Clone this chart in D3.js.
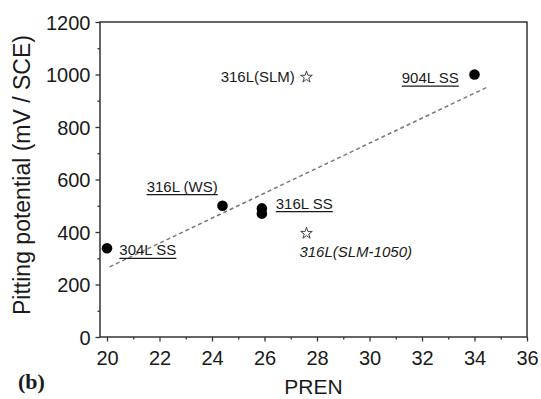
<!DOCTYPE html>
<html>
<head>
<meta charset="utf-8">
<script src="https://cdn.jsdelivr.net/npm/d3@7"></script>
<style>
  html, body { margin: 0; padding: 0; background: #fff; }
  svg text { font-family: Arial, "Liberation Sans", sans-serif; fill: #1a1a1a; }
</style>
</head>
<body>
<svg id="chart" width="541" height="399"></svg>
<script>
// measured samples: PREN vs pitting potential
var dotPren = [20, 24.4, 25.9, 25.9, 34];
var dotPotential = [338, 500, 490, 470, 1000];
var starPren = [27.6, 27.6];
var starPotential = [990, 395];

// dashed trend line end points
var trendPren = [20.1, 34.55];
var trendPotential = [267, 955];

// annotation texts and where they sit (data units)
var labelText = ["316L(SLM)", "904L SS", "316L (WS)", "304L SS", "316L SS", "316L(SLM-1050)"];
var labelPren = [24.33, 31.23, 21.51, 20.47, 26.43, 27.33];
var labelPotential = [972, 967, 554, 311, 489, 305];
var labelUnderline = [false, true, true, true, true, false];
var labelItalic = [false, false, false, false, false, true];

var xTicks = [20, 22, 24, 26, 28, 30, 32, 34, 36];
var xMinor = [21, 23, 25, 27, 29, 31, 33, 35];
var yTicks = [0, 200, 400, 600, 800, 1000, 1200];
var yMinor = [100, 300, 500, 700, 900, 1100];

var svg = d3.select("#chart");
var frame = { left: 100, right: 527, top: 22, bottom: 337 };

var xScale = d3.scaleLinear().domain([20, 36]).range([107, 527]);
var yScale = d3.scaleLinear().domain([0, 1200]).range([337, 22]);

// minor ticks
svg.append("g")
    .attr("class", "axis minor")
    .attr("transform", "translate(0," + frame.bottom + ")")
    .call(d3.axisBottom(xScale).tickValues(xMinor).tickSize(2.5).tickFormat(""));
svg.append("g")
    .attr("class", "axis minor")
    .attr("transform", "translate(" + frame.left + ",0)")
    .call(d3.axisLeft(yScale).tickValues(yMinor).tickSize(2.5).tickFormat(""));

// major ticks
var xAxis = svg.append("g")
    .attr("class", "axis axis-x")
    .attr("transform", "translate(0," + frame.bottom + ")")
    .call(d3.axisBottom(xScale).tickValues(xTicks).tickSize(4.5).tickPadding(9).tickFormat(d3.format("d")));
var yAxis = svg.append("g")
    .attr("class", "axis axis-y")
    .attr("transform", "translate(" + frame.left + ",0)")
    .call(d3.axisLeft(yScale).tickValues(yTicks).tickSize(4.5).tickPadding(5).tickFormat(d3.format("d")));

svg.selectAll(".axis .domain").remove();
svg.selectAll(".axis line").attr("stroke", "#333").attr("stroke-width", 1.3);
svg.selectAll(".axis text")
    .attr("font-size", 20)
    .attr("font-family", "Arial, 'Liberation Sans', sans-serif")
    .attr("fill", "#1a1a1a");
yAxis.selectAll("text").attr("dy", "0.36em");

// box
svg.append("rect")
    .attr("x", frame.left)
    .attr("y", frame.top)
    .attr("width", frame.right - frame.left)
    .attr("height", frame.bottom - frame.top)
    .attr("fill", "none")
    .attr("stroke", "#333")
    .attr("stroke-width", 1.5);

// trend line
var trendLine = d3.line()
    .x(function (d) { return xScale(d[0]); })
    .y(function (d) { return yScale(d[1]); });

svg.append("path")
    .datum(trendPren.map(function (p, i) { return [p, trendPotential[i]]; }))
    .attr("d", trendLine)
    .attr("fill", "none")
    .attr("stroke", "#777")
    .attr("stroke-width", 1.5)
    .attr("stroke-dasharray", "4,3");

// dots
svg.selectAll(".dot")
    .data(dotPren.map(function (p, i) { return { pren: p, mv: dotPotential[i] }; }))
    .enter().append("circle")
    .attr("class", "dot")
    .attr("cx", function (d) { return xScale(d.pren); })
    .attr("cy", function (d) { return yScale(d.mv); })
    .attr("r", 5.3)
    .attr("fill", "#000");

// stars
var star = d3.symbol().type(d3.symbolStar).size(42);
svg.selectAll(".star")
    .data(starPren.map(function (p, i) { return { pren: p, mv: starPotential[i] }; }))
    .enter().append("path")
    .attr("class", "star")
    .attr("d", star)
    .attr("transform", function (d) { return "translate(" + xScale(d.pren) + "," + yScale(d.mv) + ")"; })
    .attr("fill", "#fff")
    .attr("stroke", "#333")
    .attr("stroke-width", 0.9);

// annotations
labelText.forEach(function (t, i) {
    var x = xScale(labelPren[i]);
    var y = yScale(labelPotential[i]);
    var txt = svg.append("text")
        .attr("x", x)
        .attr("y", y)
        .attr("font-size", 15)
        .attr("font-style", labelItalic[i] ? "italic" : "normal")
        .text(t);
    if (labelUnderline[i]) {
        var w = txt.node().getComputedTextLength();
        svg.append("line")
            .attr("x1", x).attr("x2", x + w)
            .attr("y1", y + 3).attr("y2", y + 3)
            .attr("stroke", "#1a1a1a")
            .attr("stroke-width", 1.4);
    }
});

// axis titles
svg.append("text")
    .attr("x", (frame.left + frame.right) / 2)
    .attr("y", 394)
    .attr("text-anchor", "middle")
    .attr("font-size", 21)
    .text("PREN");

svg.append("text")
    .attr("transform", "translate(30," + 175 + ") rotate(-90)")
    .attr("text-anchor", "middle")
    .attr("font-size", 23)
    .text("Pitting potential (mV / SCE)");

svg.append("text")
    .attr("x", 18)
    .attr("y", 389)
    .attr("font-weight", "bold")
    .attr("font-size", 22)
    .style("font-family", "'Liberation Serif', 'Times New Roman', serif")
    .text("(b)");
</script>
</body>
</html>
